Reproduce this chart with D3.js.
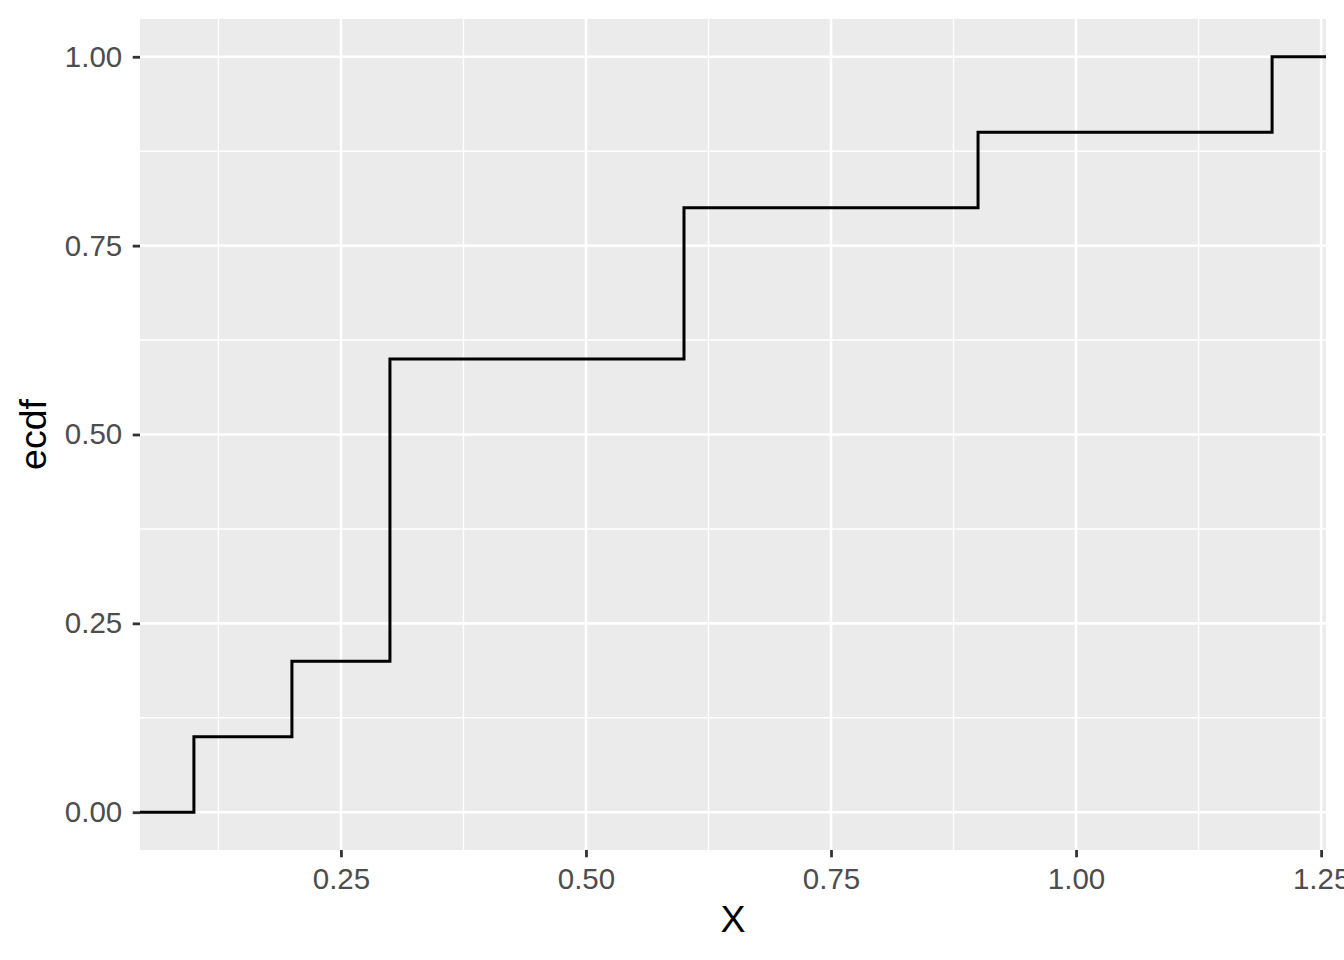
<!DOCTYPE html>
<html>
<head>
<meta charset="utf-8">
<script src="https://cdn.jsdelivr.net/npm/d3@7"></script>
<style>
  body { margin: 0; background: #fff; }
  svg { display: block; font-family: "Liberation Sans", Arial, sans-serif; }
</style>
</head>
<body>
<div id="chart"></div>
<script>
// data: sample values and their ecdf steps
var xValues = [0.1, 0.2, 0.3, 0.6, 0.9, 1.2]
var ecdfValues = [0.1, 0.2, 0.6, 0.8, 0.9, 1.0]
var xTicks = [0.25, 0.50, 0.75, 1.00, 1.25]
var yTicks = [0.00, 0.25, 0.50, 0.75, 1.00]
var xMinor = [0.125, 0.375, 0.625, 0.875, 1.125]
var yMinor = [0.125, 0.375, 0.625, 0.875]

var width = 1344
var height = 960
var margin = {top: 19, right: 18, bottom: 110, left: 140}

var tickFont = '29.5px'
var titleFont = '37.5px'

var xScale = d3.scaleLinear()
  .domain([0.045, 1.255])
  .range([margin.left, width - margin.right])

var yScale = d3.scaleLinear()
  .domain([-0.05, 1.05])
  .range([height - margin.bottom, margin.top])

var svg = d3.select('#chart')
  .append('svg')
  .attr('width', width)
  .attr('height', height)

// panel background
svg.append('rect')
  .attr('x', xScale.range()[0])
  .attr('y', yScale.range()[1])
  .attr('width', xScale.range()[1] - xScale.range()[0])
  .attr('height', yScale.range()[0] - yScale.range()[1])
  .attr('fill', '#EBEBEB')

// gridlines
function vGrid(data, w) {
  svg.append('g').selectAll('line').data(data).enter().append('line')
    .attr('x1', d => xScale(d)).attr('x2', d => xScale(d))
    .attr('y1', yScale.range()[0]).attr('y2', yScale.range()[1])
    .attr('stroke', '#fff').attr('stroke-width', w)
}
function hGrid(data, w) {
  svg.append('g').selectAll('line').data(data).enter().append('line')
    .attr('y1', d => yScale(d)).attr('y2', d => yScale(d))
    .attr('x1', xScale.range()[0]).attr('x2', xScale.range()[1])
    .attr('stroke', '#fff').attr('stroke-width', w)
}
vGrid(xMinor, 1.4)
hGrid(yMinor, 1.4)
vGrid(xTicks, 2.6)
hGrid(yTicks, 2.6)

// ecdf step line, padded to the panel edges
var steps = [{x: xScale.domain()[0], y: 0}]
xValues.forEach((x, i) => steps.push({x: x, y: ecdfValues[i]}))
steps.push({x: xScale.domain()[1], y: ecdfValues[ecdfValues.length - 1]})

var lineGenerator = d3.line()
  .x(d => xScale(d.x))
  .y(d => yScale(d.y))
  .curve(d3.curveStepAfter)

svg.append('path')
  .datum(steps)
  .attr('d', lineGenerator)
  .attr('fill', 'none')
  .attr('stroke', '#000')
  .attr('stroke-width', 3)

// axes
var xAxis = d3.axisBottom(xScale)
  .tickValues(xTicks)
  .tickFormat(d3.format('.2f'))
  .tickSize(7.3)
  .tickPadding(10.5)

var yAxis = d3.axisLeft(yScale)
  .tickValues(yTicks)
  .tickFormat(d3.format('.2f'))
  .tickSize(7.3)
  .tickPadding(10.5)

var gx = svg.append('g')
  .attr('transform', 'translate(0,' + yScale.range()[0] + ')')
  .call(xAxis)

var gy = svg.append('g')
  .attr('transform', 'translate(' + xScale.range()[0] + ',0)')
  .call(yAxis)

;[gx, gy].forEach(g => {
  g.select('.domain').remove()
  g.selectAll('.tick line').attr('stroke', '#333333').attr('stroke-width', 2.8)
  g.selectAll('.tick text')
    .attr('fill', '#4D4D4D')
    .style('font-size', tickFont)
    .style('font-family', '"Liberation Sans", Arial, sans-serif')
})

// axis titles
svg.append('text')
  .attr('x', (xScale.range()[0] + xScale.range()[1]) / 2)
  .attr('y', 932)
  .attr('text-anchor', 'middle')
  .style('font-size', titleFont)
  .text('X')

svg.append('text')
  .attr('transform', 'translate(46,' + ((yScale.range()[0] + yScale.range()[1]) / 2) + ') rotate(-90)')
  .attr('text-anchor', 'middle')
  .style('font-size', titleFont)
  .text('ecdf')
</script>
</body>
</html>
